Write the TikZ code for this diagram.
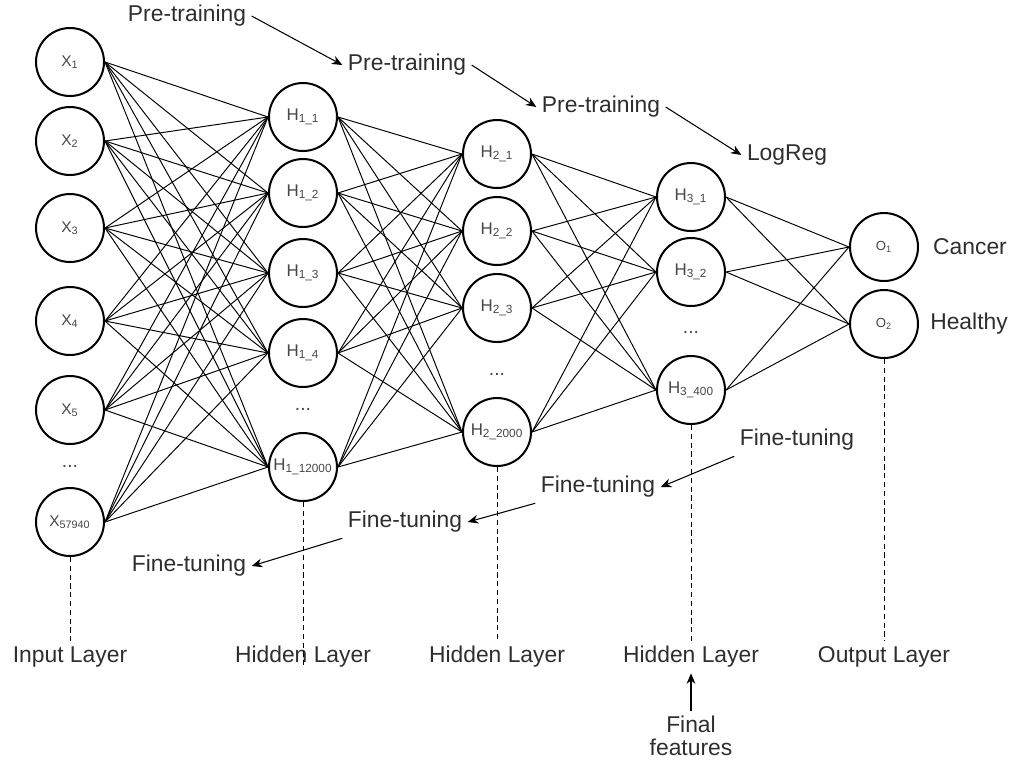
\documentclass[tikz,border=0pt]{standalone}
\usepackage{fontspec}
\setmainfont{Liberation Sans}
\usetikzlibrary{arrows.meta}
\begin{document}
\begin{tikzpicture}[x=0.02cm,y=-0.02cm,
  neuron/.style={circle,draw,line width=1.15pt,minimum size=1.36cm,inner sep=0pt,text=black!72},
  xlab/.style={font=\fontsize{8.8}{9}\selectfont},
  hlab/.style={font=\fontsize{9.6}{10}\selectfont},
  olab/.style={font=\fontsize{7.5}{8}\selectfont},
  edge/.style={line width=0.55pt},
  big/.style={font=\fontsize{13}{15}\selectfont,text=black!82,inner sep=3pt},
  dots/.style={font=\fontsize{11}{12}\selectfont,text=black!72},
  guide/.style={densely dashed,line width=0.55pt},
  arr/.style={line width=0.6pt,-{Stealth[length=6pt,width=5pt]}}]
\useasboundingbox (0,0) rectangle (1017,769);
% input layer
\node[neuron,xlab] (x1) at (70,62) {X\textsubscript{1}};
\node[neuron,xlab] (x2) at (70,141) {X\textsubscript{2}};
\node[neuron,xlab] (x3) at (70,228) {X\textsubscript{3}};
\node[neuron,xlab] (x4) at (70,321) {X\textsubscript{4}};
\node[neuron,xlab] (x5) at (70,410) {X\textsubscript{5}};
\node[dots] (xd) at (70,466) {...};
\node[neuron,xlab] (x6) at (70,522) {X\textsubscript{57940}};
% hidden 1
\node[neuron,hlab] (ha1) at (303,117) {H\textsubscript{1\_1}};
\node[neuron,hlab] (ha2) at (303,193) {H\textsubscript{1\_2}};
\node[neuron,hlab] (ha3) at (303,273) {H\textsubscript{1\_3}};
\node[neuron,hlab] (ha4) at (303,353) {H\textsubscript{1\_4}};
\node[dots] (had) at (303,409) {...};
\node[neuron,hlab] (ha5) at (303,467) {H\textsubscript{1\_12000}};
% hidden 2
\node[neuron,hlab] (hb1) at (497,154) {H\textsubscript{2\_1}};
\node[neuron,hlab] (hb2) at (497,231) {H\textsubscript{2\_2}};
\node[neuron,hlab] (hb3) at (497,308) {H\textsubscript{2\_3}};
\node[dots] (hbd) at (497,374) {...};
\node[neuron,hlab] (hb4) at (497,432) {H\textsubscript{2\_2000}};
% hidden 3
\node[neuron,hlab] (hc1) at (691,197) {H\textsubscript{3\_1}};
\node[neuron,hlab] (hc2) at (691,272) {H\textsubscript{3\_2}};
\node[dots] (hcd) at (691,332) {...};
\node[neuron,hlab] (hc3) at (691,390) {H\textsubscript{3\_400}};
% output
\node[neuron,olab] (o1) at (884,247) {O\textsubscript{1}};
\node[neuron,olab] (o2) at (884,324) {O\textsubscript{2}};
\node[big] (cancer) at (970,247) {Cancer};
\node[big] (healthy) at (969,324) {Healthy};
% edges
\foreach \i in {1,...,6} \foreach \j in {1,...,5} \draw[edge] (x\i.east) -- (ha\j.west);
\foreach \i in {1,...,5} \foreach \j in {1,...,4} \draw[edge] (ha\i.east) -- (hb\j.west);
\foreach \i in {1,...,4} \foreach \j in {1,...,3} \draw[edge] (hb\i.east) -- (hc\j.west);
\foreach \i in {1,...,3} \foreach \j in {1,2} \draw[edge] (hc\i.east) -- (o\j.west);
% layer labels
\node[big] (lin) at (70,657) {Input Layer};
\node[big] (lh1) at (303,657) {Hidden Layer};
\node[big] (lh2) at (497,657) {Hidden Layer};
\node[big] (lh3) at (691,657) {Hidden Layer};
\node[big] (lout) at (884,657) {Output Layer};
\coordinate (e1) at (303,668);
\draw[guide] (x6.south) -- (lin.north);
\draw[guide] (ha5.south) -- (e1);
\draw[guide] (hb4.south) -- (lh2.north);
\draw[guide] (hc3.south) -- (lh3.north);
\draw[guide] (o2.south) -- (lout.north);
\node[big,align=center] (ff) at (691,736) {Final\\[-2pt]features};
\draw[arr] (ff.north) -- (lh3.south);
% pre-training
\node[big] (pt1) at (187,16) {Pre-training};
\node[big] (pt2) at (407,65) {Pre-training};
\node[big] (pt3) at (601,107) {Pre-training};
\node[big] (lr) at (787,155) {LogReg};
\draw[arr] (pt1.east) -- (pt2.west);
\draw[arr] (pt2.east) -- (pt3.west);
\draw[arr] (pt3.east) -- (lr.west);
% fine-tuning
\node[big] (ft1) at (797,440) {Fine-tuning};
\node[big] (ft2) at (598,487) {Fine-tuning};
\node[big] (ft3) at (405,522) {Fine-tuning};
\node[big] (ft4) at (189,566) {Fine-tuning};
\draw[arr] (ft1.south west) -- (ft2.east);
\draw[arr] (ft2.south west) -- (ft3.east);
\draw[arr] (ft3.south west) -- (ft4.east);
\end{tikzpicture}
\end{document}
